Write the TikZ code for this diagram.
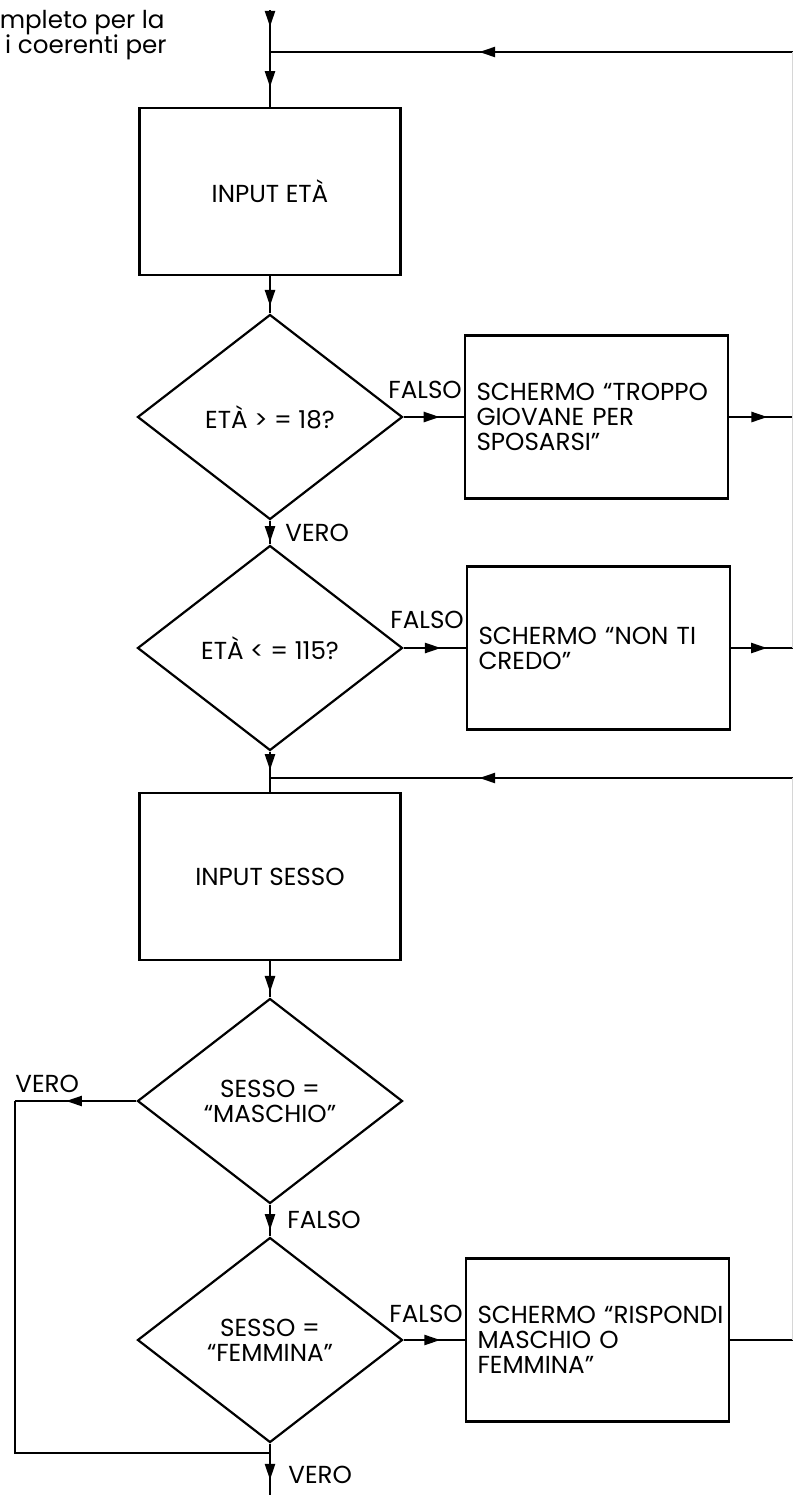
\documentclass[tikz,border=0pt]{standalone}
\usepackage{fontspec}
\setmainfont{Poppins}
\usetikzlibrary{shapes.geometric, arrows.meta, decorations.markings}
\definecolor{bordopagina}{HTML}{D6D6D6}

\begin{document}
\begin{tikzpicture}[x=0.5pt, y=-0.5pt,
    font=\fontsize{12.3}{12.5}\selectfont,
    linea/.style={line width=1.2pt},
    blocco/.style={draw, line width=1.2pt, minimum width=130.5pt,
      minimum height=83.5pt, inner sep=0pt},
    messaggio/.style={blocco, minimum width=131.5pt, minimum height=81.5pt,
      text width=120pt, align=left},
    scelta/.style={draw, diamond, line width=1.1pt, minimum width=132.5pt,
      minimum height=102.5pt, inner sep=0pt, align=center},
    etichetta/.style={inner sep=0pt},
    freccia/.style={linea, postaction={decorate}, decoration={markings,
      mark=at position #1 with {\arrow{Triangle[length=8pt,width=5pt]}}}}
  ]
    \useasboundingbox (0,0) rectangle (793,1495);

    % resto del testo della pagina
    \node[etichetta, anchor=base east] (riga1) at (165,28) {mpleto per la};
    \node[etichetta, anchor=base east] (riga2) at (167,53) {i coerenti per};

    % blocchi lungo la colonna principale
    \node[blocco] (inEta) at (270,191.5) {INPUT ETÀ};
    \node[scelta] (dEta18) at (270,417) {ETÀ > = 18?};
    \node[scelta] (dEta115) at (270,648) {ETÀ < = 115?};
    \node[blocco] (inSesso) at (270,876.5) {INPUT SESSO};
    \node[scelta] (dMaschio) at (270,1101) {SESSO =\\“MASCHIO”};
    \node[scelta] (dFemmina) at (270,1340) {SESSO =\\“FEMMINA”};

    % messaggi a destra
    \node[messaggio] (msgGiovane) at (596.5,417) {\mbox{SCHERMO “TROPPO}\\GIOVANE PER\\SPOSARSI”};
    \node[messaggio] (msgCredo) at (598.5,648) {\mbox{SCHERMO “NON TI}\\CREDO”};
    \node[messaggio] (msgRispondi) at (597.5,1340) {\mbox{SCHERMO “RISPONDI}\\MASCHIO O\\FEMMINA”};

    \coordinate (inizio) at (270,10);
    \coordinate (giunto1) at (270,52);
    \coordinate (giunto2) at (270,778);
    \coordinate (giunto3) at (270,1453);
    \coordinate (fine) at (270,1495);
    \coordinate (ritorno1) at (793,52);
    \coordinate (ritorno2) at (793,778);
    \coordinate (uscita1) at (793,417);
    \coordinate (uscita2) at (793,648);
    \coordinate (uscita3) at (793,1340);
    \coordinate (sinistra) at (15,1101);
    \coordinate (angolo) at (15,1453);

    % collegamenti
    \draw[freccia=0.4] (inizio) -- (giunto1);
    \draw[freccia=0.64] (giunto1) -- (inEta.north);
    \draw[freccia=0.8] (inEta.south) -- (dEta18.north);
    \draw[freccia=0.9] (dEta18.south) -- (dEta115.north);
    \draw[freccia=0.7] (dEta115.south) -- (giunto2);
    \draw[linea] (giunto2) -- (inSesso.north);
    \draw[freccia=0.85] (inSesso.south) -- (dMaschio.north);
    \draw[freccia=0.8] (dMaschio.south) -- (dFemmina.north);
    \draw[linea] (dFemmina.south) -- (giunto3);
    \draw[freccia=0.64] (giunto3) -- (fine);

    \draw[freccia=0.6] (dEta18.east) -- (msgGiovane.west);
    \draw[freccia=0.6] (dEta115.east) -- (msgCredo.west);
    \draw[freccia=0.6] (dFemmina.east) -- (msgRispondi.west);
    \draw[freccia=0.6] (msgGiovane.east) -- (uscita1);
    \draw[freccia=0.58] (msgCredo.east) -- (uscita2);
    \draw[linea] (msgRispondi.east) -- (uscita3);

    \draw[freccia=0.6] (ritorno1) -- (giunto1);
    \draw[freccia=0.6] (ritorno2) -- (giunto2);
    \draw[freccia=0.58] (dMaschio.west) -- (sinistra);
    \draw[linea] (sinistra) -- (angolo) -- (giunto3);

    % bordo tagliato a destra
    \draw[bordopagina, line width=0.6pt] (ritorno1) -- (uscita2);
    \draw[bordopagina, line width=0.6pt] (ritorno2) -- (uscita3);

    % etichette
    \node[etichetta, anchor=south west] (lblFalso1) at (388,399) {FALSO};
    \node[etichetta, anchor=south west] (lblFalso2) at (390,629) {FALSO};
    \node[etichetta, anchor=south west] (lblFalso4) at (389,1323) {FALSO};
    \node[etichetta, anchor=west] (lblVero1) at (285,533) {VERO};
    \node[etichetta, anchor=south west] (lblVero3) at (15,1093) {VERO};
    \node[etichetta, anchor=west] (lblFalso3) at (287,1220) {FALSO};
    \node[etichetta, anchor=west] (lblVero4) at (288,1475) {VERO};
  \end{tikzpicture}
\end{document}
